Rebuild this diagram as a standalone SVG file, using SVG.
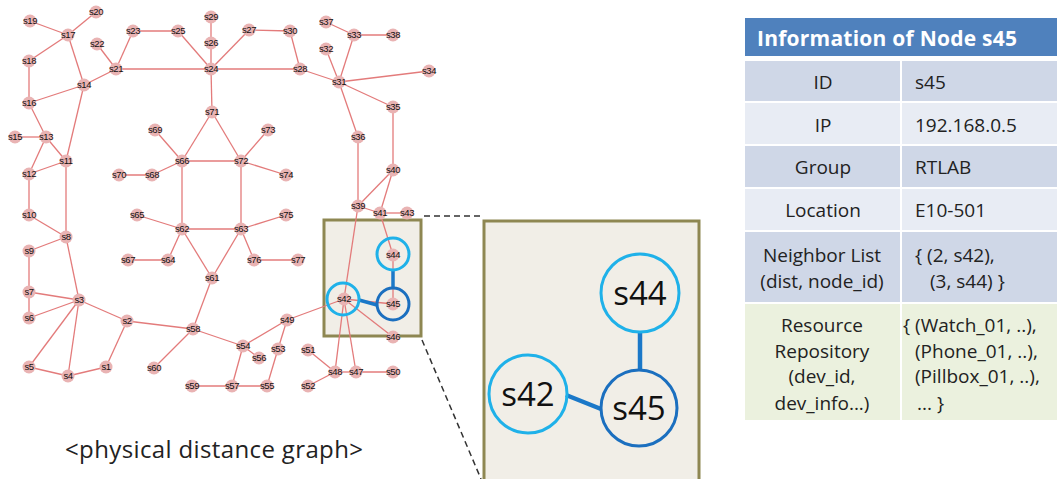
<svg xmlns="http://www.w3.org/2000/svg" width="1061" height="479" viewBox="0 0 1061 479">
<style>
.e{stroke:#e37b7b;stroke-width:1.3;fill:none}
.n circle{fill:#e9b3b3}
.n text{font-family:"Liberation Sans",Arial,sans-serif;font-size:9.5px;fill:#111;text-anchor:middle;letter-spacing:-0.4px}
.t{font-family:"Open Sans","Noto Sans",sans-serif;font-size:19px;fill:#222}
.c{text-anchor:middle}
.big{font-family:"Open Sans","Noto Sans",sans-serif;font-size:33px;fill:#111;text-anchor:middle}
.lb{stroke:#1fb1e9;stroke-width:3;fill:none}
.db{stroke:#1b6fbf;stroke-width:3;fill:none}
.bl{stroke:#1b78c8;stroke-linecap:butt}
.dash{stroke:#333;stroke-width:1.5;stroke-dasharray:6 4;fill:none}
</style>
<rect width="1061" height="479" fill="#ffffff"/>
<g id="zoom-box-small"><rect x="324" y="220" width="97" height="116" fill="#f1eee7" stroke="#8e8752" stroke-width="3"/></g>
<g id="connectors" class="e">
<line x1="30" y1="21" x2="68" y2="35"/>
<line x1="96" y1="12" x2="68" y2="35"/>
<line x1="68" y1="35" x2="29" y2="61"/>
<line x1="68" y1="35" x2="84" y2="85"/>
<line x1="29" y1="61" x2="29" y2="103"/>
<line x1="29" y1="103" x2="84" y2="85"/>
<line x1="84" y1="85" x2="116" y2="69"/>
<line x1="97" y1="44" x2="116" y2="69"/>
<line x1="116" y1="69" x2="133" y2="31"/>
<line x1="116" y1="69" x2="211" y2="69"/>
<line x1="133" y1="31" x2="178" y2="31"/>
<line x1="178" y1="31" x2="211" y2="69"/>
<line x1="211" y1="17" x2="211" y2="43"/>
<line x1="211" y1="43" x2="211" y2="69"/>
<line x1="249" y1="30" x2="211" y2="69"/>
<line x1="249" y1="30" x2="290" y2="31"/>
<line x1="290" y1="31" x2="300" y2="69"/>
<line x1="211" y1="69" x2="300" y2="69"/>
<line x1="211" y1="69" x2="212" y2="112"/>
<line x1="300" y1="69" x2="339" y2="82"/>
<line x1="326" y1="22" x2="354" y2="35"/>
<line x1="354" y1="35" x2="393" y2="35"/>
<line x1="354" y1="35" x2="339" y2="82"/>
<line x1="326" y1="49" x2="339" y2="82"/>
<line x1="339" y1="82" x2="429" y2="71"/>
<line x1="339" y1="82" x2="393" y2="107"/>
<line x1="339" y1="82" x2="358" y2="137"/>
<line x1="29" y1="103" x2="46" y2="137"/>
<line x1="15" y1="137" x2="46" y2="137"/>
<line x1="46" y1="137" x2="29" y2="174"/>
<line x1="46" y1="137" x2="66" y2="161"/>
<line x1="29" y1="174" x2="66" y2="161"/>
<line x1="84" y1="85" x2="66" y2="161"/>
<line x1="29" y1="174" x2="29" y2="215"/>
<line x1="66" y1="161" x2="66" y2="237"/>
<line x1="29" y1="215" x2="66" y2="237"/>
<line x1="66" y1="237" x2="29" y2="251"/>
<line x1="66" y1="237" x2="79" y2="300"/>
<line x1="29" y1="251" x2="29" y2="292"/>
<line x1="29" y1="292" x2="79" y2="300"/>
<line x1="29" y1="292" x2="29" y2="318"/>
<line x1="29" y1="318" x2="79" y2="300"/>
<line x1="79" y1="300" x2="29" y2="367"/>
<line x1="79" y1="300" x2="68" y2="376"/>
<line x1="29" y1="367" x2="68" y2="376"/>
<line x1="68" y1="376" x2="106" y2="367"/>
<line x1="106" y1="367" x2="127" y2="321"/>
<line x1="79" y1="300" x2="127" y2="321"/>
<line x1="127" y1="321" x2="193" y2="329"/>
<line x1="193" y1="329" x2="154" y2="368"/>
<line x1="193" y1="329" x2="212" y2="278"/>
<line x1="193" y1="329" x2="243" y2="346"/>
<line x1="243" y1="346" x2="287" y2="320"/>
<line x1="287" y1="320" x2="278" y2="349"/>
<line x1="278" y1="349" x2="267" y2="386"/>
<line x1="243" y1="346" x2="259" y2="358"/>
<line x1="243" y1="346" x2="232" y2="386"/>
<line x1="192" y1="386" x2="232" y2="386"/>
<line x1="232" y1="386" x2="267" y2="386"/>
<line x1="308" y1="350" x2="335" y2="372"/>
<line x1="308" y1="386" x2="335" y2="372"/>
<line x1="335" y1="372" x2="356" y2="372"/>
<line x1="356" y1="372" x2="393" y2="372"/>
<line x1="335" y1="372" x2="344" y2="299"/>
<line x1="356" y1="372" x2="344" y2="299"/>
<line x1="287" y1="320" x2="344" y2="299"/>
<line x1="344" y1="299" x2="393" y2="304"/>
<line x1="344" y1="299" x2="393" y2="337"/>
<line x1="393" y1="255" x2="393" y2="304"/>
<line x1="380" y1="213" x2="393" y2="255"/>
<line x1="358" y1="206" x2="344" y2="299"/>
<line x1="358" y1="137" x2="358" y2="206"/>
<line x1="393" y1="107" x2="393" y2="170"/>
<line x1="393" y1="170" x2="358" y2="206"/>
<line x1="393" y1="170" x2="380" y2="213"/>
<line x1="358" y1="206" x2="380" y2="213"/>
<line x1="380" y1="213" x2="407" y2="213"/>
<line x1="212" y1="112" x2="182" y2="161"/>
<line x1="212" y1="112" x2="241" y2="161"/>
<line x1="155" y1="130" x2="182" y2="161"/>
<line x1="182" y1="161" x2="152" y2="175"/>
<line x1="152" y1="175" x2="119" y2="175"/>
<line x1="182" y1="161" x2="241" y2="161"/>
<line x1="241" y1="161" x2="268" y2="130"/>
<line x1="241" y1="161" x2="286" y2="175"/>
<line x1="182" y1="161" x2="182" y2="229"/>
<line x1="241" y1="161" x2="241" y2="229"/>
<line x1="137" y1="215" x2="182" y2="229"/>
<line x1="182" y1="229" x2="241" y2="229"/>
<line x1="241" y1="229" x2="286" y2="215"/>
<line x1="182" y1="229" x2="168" y2="260"/>
<line x1="168" y1="260" x2="128" y2="260"/>
<line x1="241" y1="229" x2="254" y2="260"/>
<line x1="254" y1="260" x2="298" y2="260"/>
<line x1="182" y1="229" x2="212" y2="278"/>
<line x1="241" y1="229" x2="212" y2="278"/>
</g>
<g id="nodes" class="n">
<g id="s1"><circle cx="106" cy="367" r="6.5"/><text x="106" y="370">s1</text></g>
<g id="s2"><circle cx="127" cy="321" r="6.5"/><text x="127" y="324">s2</text></g>
<g id="s3"><circle cx="79" cy="300" r="6.5"/><text x="79" y="303">s3</text></g>
<g id="s4"><circle cx="68" cy="376" r="6.5"/><text x="68" y="379">s4</text></g>
<g id="s5"><circle cx="29" cy="367" r="6.5"/><text x="29" y="370">s5</text></g>
<g id="s6"><circle cx="29" cy="318" r="6.5"/><text x="29" y="321">s6</text></g>
<g id="s7"><circle cx="29" cy="292" r="6.5"/><text x="29" y="295">s7</text></g>
<g id="s8"><circle cx="66" cy="237" r="6.5"/><text x="66" y="240">s8</text></g>
<g id="s9"><circle cx="29" cy="251" r="6.5"/><text x="29" y="254">s9</text></g>
<g id="s10"><circle cx="29" cy="215" r="6.5"/><text x="29" y="218">s10</text></g>
<g id="s11"><circle cx="66" cy="161" r="6.5"/><text x="66" y="164">s11</text></g>
<g id="s12"><circle cx="29" cy="174" r="6.5"/><text x="29" y="177">s12</text></g>
<g id="s13"><circle cx="46" cy="137" r="6.5"/><text x="46" y="140">s13</text></g>
<g id="s14"><circle cx="84" cy="85" r="6.5"/><text x="84" y="88">s14</text></g>
<g id="s15"><circle cx="15" cy="137" r="6.5"/><text x="15" y="140">s15</text></g>
<g id="s16"><circle cx="29" cy="103" r="6.5"/><text x="29" y="106">s16</text></g>
<g id="s17"><circle cx="68" cy="35" r="6.5"/><text x="68" y="38">s17</text></g>
<g id="s18"><circle cx="29" cy="61" r="6.5"/><text x="29" y="64">s18</text></g>
<g id="s19"><circle cx="30" cy="21" r="6.5"/><text x="30" y="24">s19</text></g>
<g id="s20"><circle cx="96" cy="12" r="6.5"/><text x="96" y="15">s20</text></g>
<g id="s21"><circle cx="116" cy="69" r="6.5"/><text x="116" y="72">s21</text></g>
<g id="s22"><circle cx="97" cy="44" r="6.5"/><text x="97" y="47">s22</text></g>
<g id="s23"><circle cx="133" cy="31" r="6.5"/><text x="133" y="34">s23</text></g>
<g id="s24"><circle cx="211" cy="69" r="6.5"/><text x="211" y="72">s24</text></g>
<g id="s25"><circle cx="178" cy="31" r="6.5"/><text x="178" y="34">s25</text></g>
<g id="s26"><circle cx="211" cy="43" r="6.5"/><text x="211" y="46">s26</text></g>
<g id="s27"><circle cx="249" cy="30" r="6.5"/><text x="249" y="33">s27</text></g>
<g id="s28"><circle cx="300" cy="69" r="6.5"/><text x="300" y="72">s28</text></g>
<g id="s29"><circle cx="211" cy="17" r="6.5"/><text x="211" y="20">s29</text></g>
<g id="s30"><circle cx="290" cy="31" r="6.5"/><text x="290" y="34">s30</text></g>
<g id="s31"><circle cx="339" cy="82" r="6.5"/><text x="339" y="85">s31</text></g>
<g id="s32"><circle cx="326" cy="49" r="6.5"/><text x="326" y="52">s32</text></g>
<g id="s33"><circle cx="354" cy="35" r="6.5"/><text x="354" y="38">s33</text></g>
<g id="s34"><circle cx="429" cy="71" r="6.5"/><text x="429" y="74">s34</text></g>
<g id="s35"><circle cx="393" cy="107" r="6.5"/><text x="393" y="110">s35</text></g>
<g id="s36"><circle cx="358" cy="137" r="6.5"/><text x="358" y="140">s36</text></g>
<g id="s37"><circle cx="326" cy="22" r="6.5"/><text x="326" y="25">s37</text></g>
<g id="s38"><circle cx="393" cy="35" r="6.5"/><text x="393" y="38">s38</text></g>
<g id="s39"><circle cx="358" cy="206" r="6.5"/><text x="358" y="209">s39</text></g>
<g id="s40"><circle cx="393" cy="170" r="6.5"/><text x="393" y="173">s40</text></g>
<g id="s41"><circle cx="380" cy="213" r="6.5"/><text x="380" y="216">s41</text></g>
<g id="s42"><circle cx="344" cy="299" r="6.5"/><text x="344" y="302">s42</text></g>
<g id="s43"><circle cx="407" cy="213" r="6.5"/><text x="407" y="216">s43</text></g>
<g id="s44"><circle cx="393" cy="255" r="6.5"/><text x="393" y="258">s44</text></g>
<g id="s45"><circle cx="393" cy="304" r="6.5"/><text x="393" y="307">s45</text></g>
<g id="s46"><circle cx="393" cy="337" r="6.5"/><text x="393" y="340">s46</text></g>
<g id="s47"><circle cx="356" cy="372" r="6.5"/><text x="356" y="375">s47</text></g>
<g id="s48"><circle cx="335" cy="372" r="6.5"/><text x="335" y="375">s48</text></g>
<g id="s49"><circle cx="287" cy="320" r="6.5"/><text x="287" y="323">s49</text></g>
<g id="s50"><circle cx="393" cy="372" r="6.5"/><text x="393" y="375">s50</text></g>
<g id="s51"><circle cx="308" cy="350" r="6.5"/><text x="308" y="353">s51</text></g>
<g id="s52"><circle cx="308" cy="386" r="6.5"/><text x="308" y="389">s52</text></g>
<g id="s53"><circle cx="278" cy="349" r="6.5"/><text x="278" y="352">s53</text></g>
<g id="s54"><circle cx="243" cy="346" r="6.5"/><text x="243" y="349">s54</text></g>
<g id="s55"><circle cx="267" cy="386" r="6.5"/><text x="267" y="389">s55</text></g>
<g id="s56"><circle cx="259" cy="358" r="6.5"/><text x="259" y="361">s56</text></g>
<g id="s57"><circle cx="232" cy="386" r="6.5"/><text x="232" y="389">s57</text></g>
<g id="s58"><circle cx="193" cy="329" r="6.5"/><text x="193" y="332">s58</text></g>
<g id="s59"><circle cx="192" cy="386" r="6.5"/><text x="192" y="389">s59</text></g>
<g id="s60"><circle cx="154" cy="368" r="6.5"/><text x="154" y="371">s60</text></g>
<g id="s61"><circle cx="212" cy="278" r="6.5"/><text x="212" y="281">s61</text></g>
<g id="s62"><circle cx="182" cy="229" r="6.5"/><text x="182" y="232">s62</text></g>
<g id="s63"><circle cx="241" cy="229" r="6.5"/><text x="241" y="232">s63</text></g>
<g id="s64"><circle cx="168" cy="260" r="6.5"/><text x="168" y="263">s64</text></g>
<g id="s65"><circle cx="137" cy="215" r="6.5"/><text x="137" y="218">s65</text></g>
<g id="s66"><circle cx="182" cy="161" r="6.5"/><text x="182" y="164">s66</text></g>
<g id="s67"><circle cx="128" cy="260" r="6.5"/><text x="128" y="263">s67</text></g>
<g id="s68"><circle cx="152" cy="175" r="6.5"/><text x="152" y="178">s68</text></g>
<g id="s69"><circle cx="155" cy="130" r="6.5"/><text x="155" y="133">s69</text></g>
<g id="s70"><circle cx="119" cy="175" r="6.5"/><text x="119" y="178">s70</text></g>
<g id="s71"><circle cx="212" cy="112" r="6.5"/><text x="212" y="115">s71</text></g>
<g id="s72"><circle cx="241" cy="161" r="6.5"/><text x="241" y="164">s72</text></g>
<g id="s73"><circle cx="268" cy="130" r="6.5"/><text x="268" y="133">s73</text></g>
<g id="s74"><circle cx="286" cy="175" r="6.5"/><text x="286" y="178">s74</text></g>
<g id="s75"><circle cx="286" cy="215" r="6.5"/><text x="286" y="218">s75</text></g>
<g id="s76"><circle cx="254" cy="260" r="6.5"/><text x="254" y="263">s76</text></g>
<g id="s77"><circle cx="298" cy="260" r="6.5"/><text x="298" y="263">s77</text></g>
</g>
<g id="highlight-small">
<line class="bl" x1="393" y1="270" x2="393" y2="288" stroke-width="3.5"/>
<line class="bl" x1="359" y1="300" x2="377" y2="305" stroke-width="3.5"/>
<circle class="lb" cx="393" cy="254" r="16"/>
<circle class="lb" cx="343" cy="299" r="16"/>
<circle class="db" cx="393" cy="304" r="16"/>
</g>
<g id="zoom-lines">
<line class="dash" x1="424" y1="216" x2="484" y2="216"/>
<line class="dash" x1="422" y1="340" x2="481" y2="479"/>
</g>
<g id="zoom-box-large">
<rect x="484" y="221" width="215" height="262" fill="#f1eee7" stroke="#8e8752" stroke-width="3"/>
<line class="bl" x1="640" y1="333" x2="640" y2="370" stroke-width="4.5"/>
<line class="bl" x1="566" y1="395" x2="601" y2="409" stroke-width="4.5"/>
<g id="big-s44"><circle class="lb" cx="640" cy="293" r="39"/><text class="big" x="640" y="305">s44</text></g>
<g id="big-s42"><circle class="lb" cx="528" cy="394" r="39"/><text class="big" x="528" y="406">s42</text></g>
<g id="big-s45"><circle class="db" cx="639" cy="408" r="38"/><text class="big" x="639" y="420">s45</text></g>
</g>
<g id="caption"><text x="65" y="458" font-family="Open Sans, Noto Sans, sans-serif" font-size="24" fill="#222" textLength="298" lengthAdjust="spacing">&lt;physical distance graph&gt;</text></g>
<g id="info-table">
<rect x="745" y="18" width="312" height="38" fill="#4f81bd"/>
<text x="757" y="46" font-family="Open Sans, Noto Sans, sans-serif" font-size="21" font-weight="bold" fill="#ffffff" textLength="260" lengthAdjust="spacing">Information of Node s45</text>
<rect x="745" y="61" width="155" height="40" fill="#cfd7e7"/><rect x="902" y="61" width="155" height="40" fill="#cfd7e7"/>
<rect x="745" y="103" width="155" height="41" fill="#e8ecf4"/><rect x="902" y="103" width="155" height="41" fill="#e8ecf4"/>
<rect x="745" y="146" width="155" height="41" fill="#cfd7e7"/><rect x="902" y="146" width="155" height="41" fill="#cfd7e7"/>
<rect x="745" y="189" width="155" height="41" fill="#e8ecf4"/><rect x="902" y="189" width="155" height="41" fill="#e8ecf4"/>
<rect x="745" y="232" width="155" height="70" fill="#cfd7e7"/><rect x="902" y="232" width="155" height="70" fill="#cfd7e7"/>
<rect x="745" y="304" width="155" height="116" fill="#ebf1de"/><rect x="902" y="304" width="155" height="116" fill="#ebf1de"/>
<text class="t c" x="823" y="89">ID</text><text class="t" x="915" y="89">s45</text>
<text class="t c" x="823" y="132">IP</text><text class="t" x="915" y="132">192.168.0.5</text>
<text class="t c" x="823" y="174">Group</text><text class="t" x="915" y="174">RTLAB</text>
<text class="t c" x="823" y="217">Location</text><text class="t" x="915" y="217">E10-501</text>
<text class="t c" x="822" y="262">Neighbor List</text><text class="t c" x="822" y="288">(dist, node_id)</text>
<text class="t" x="915" y="262">{ (2, s42),</text><text class="t" x="930" y="288">(3, s44) }</text>
<text class="t c" x="822" y="332">Resource</text><text class="t c" x="822" y="358">Repository</text>
<text class="t c" x="822" y="383">(dev_id,</text><text class="t c" x="822" y="410">dev_info...)</text>
<text class="t" x="903" y="332">{ (Watch_01, ..),</text><text class="t" x="915" y="358">(Phone_01, ..),</text>
<text class="t" x="915" y="383">(Pillbox_01, ..),</text><text class="t" x="917" y="410">... }</text>
</g>
</svg>
